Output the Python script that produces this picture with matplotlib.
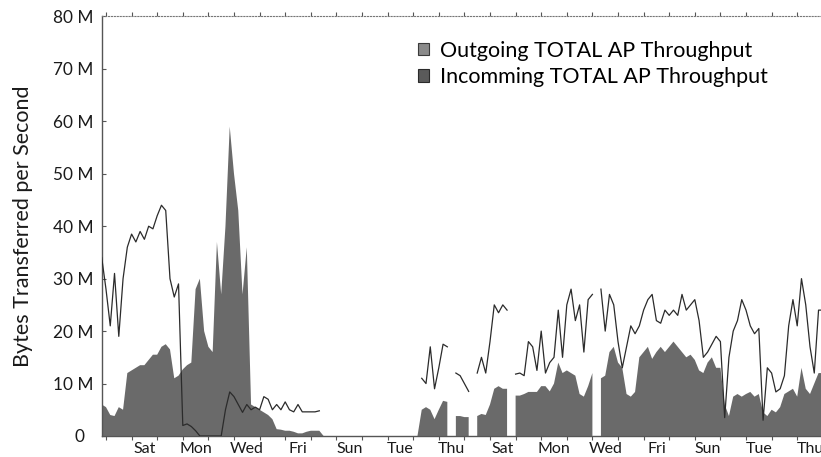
import numpy as np
import matplotlib
matplotlib.use("Agg")
import matplotlib.pyplot as plt
from matplotlib.patches import Patch

nan = np.nan

# 4-hour samples, first one taken 4 h before the Friday tick
start_day = -1 / 6
step = 1 / 6

# incoming throughput (MB/s), drawn as a filled area
incoming = [
    6, 5.5, 4, 3.8, 5.5, 5, 12, 12.5, 13, 13.5,
    13.5, 14.5, 15.5, 15.5, 17, 17.5, 16.5, 11, 11.5, 12.7,
    13.5, 14, 28, 30, 20, 17, 16, 37, 27, 40,
    59, 50, 43, 27, 36, 6, 5.5, 5, 4.5, 4,
    3.2, 1.3, 1.2, 1, 1, 0.8, 0.5, 0.5, 0.8, 1,
    1, 1, 0, 0, 0, 0, 0, 0, 0, 0,
    0, 0, 0, 0, 0, 0, 0, 0, 0, 0,
    0, 0, 0, 0, 0, 5, 5.5, 5, 3.2, 5,
    6.7, 6.5, nan, 3.8, 3.8, 3.6, 3.6, nan, 3.8, 4.2,
    4, 6, 9, 9.5, 9, 9, nan, 7.7, 7.7, 8,
    8.4, 8.4, 8.4, 9.5, 9.5, 8.5, 10, 14, 12, 12.5,
    12, 11.5, 8, 7.5, 9.5, 12, nan, 11, 11.5, 16,
    17, 14, 13, 8, 7.5, 8.4, 15, 16, 17, 14.7,
    16, 17, 16, 17, 18, 17, 16, 15, 15.5, 14.5,
    12.5, 12, 14, 15, 13, 13, 6, 3.8, 7.5, 8,
    7.5, 8, 8.4, 7.5, 8, 4.5, 3.8, 5, 4.5, 5.5,
    8, 8.5, 9, 7.5, 13, 9, 8, 10, 12, 12,
]

# outgoing throughput (MB/s), drawn as a thin line
outgoing = [
    34, 28, 21, 31, 19, 30, 36, 38.5, 37, 39,
    37.5, 40, 39.5, 42, 44, 43, 30, 26.5, 29, 2,
    2.3, 1.8, 1, 0, 0, 0, 0, 0, 0, 5,
    8.4, 7.5, 6, 4.5, 6, 5, 5.5, 5, 7.5, 7,
    5, 6, 5, 6.5, 5, 4.6, 6, 4.6, 4.6, 4.6,
    4.6, 4.8, nan, nan, nan, nan, nan, nan, nan, nan,
    nan, nan, nan, nan, nan, nan, nan, nan, nan, nan,
    nan, nan, nan, nan, nan, 11, 10, 17, 9, 13,
    17.5, 17, nan, 12, 11.5, 10, 8.5, nan, 12, 15,
    12, 18, 25, 23.5, 25, 24, nan, 11.8, 12, 11.5,
    18, 17, 12.5, 20, 12, 14, 15, 24, 15, 25,
    28, 22, 25, 16, 26, 27, nan, 28, 20, 27,
    25, 18, 13, 17, 21, 19.5, 21, 24, 26, 27,
    22, 21.5, 24, 23, 24, 23, 27, 24, 25, 26,
    22, 15, 16, 17.5, 19, 18, 3.5, 15, 20, 22,
    26, 24, 21, 19.5, 20.5, 3, 13, 12, 8.4, 9,
    11.5, 21, 26, 21, 30, 25, 17, 12, 24, 24,
]

day_names = ["Sat", "Mon", "Wed", "Fri", "Sun", "Tue", "Thu",
             "Sat", "Mon", "Wed", "Fri", "Sun", "Tue", "Thu"]
y_ticks = [0, 10, 20, 30, 40, 50, 60, 70, 80]
y_labels = ["0\u2002"] + [f"{v} M" for v in y_ticks[1:]]

plt.rcParams["font.family"] = ["Lato", "DejaVu Sans"]

fig = plt.figure(figsize=(8.21, 4.57), dpi=100)
ax = fig.add_axes([0.1239, 0.046, 0.8939, 0.918])

incoming = np.array(incoming, dtype=float)
outgoing = np.array(outgoing, dtype=float)
t = start_day + np.arange(len(incoming)) * step

ax.fill_between(t, incoming, color="#6a6a6a", linewidth=0, zorder=2)
ax.plot(t, outgoing, color="#2b2b2b", linewidth=0.9, zorder=3)

ax.set_xlim(start_day, 28.5)
ax.set_ylim(0, 80)

ax.set_yticks(y_ticks)
ax.set_yticklabels(y_labels, fontsize=12.4, color="#1a1a1a")
ax.set_xticks(np.arange(0, 29))
ax.set_xticklabels([])
ax.set_xticks(np.arange(1, 28, 2) + 0.5, minor=True)
ax.set_xticklabels(day_names, minor=True, fontsize=11.5, color="#1a1a1a")
ax.tick_params(axis="x", which="minor", length=0, pad=4)
ax.tick_params(axis="x", which="major", length=3, direction="out", color="#555555",
               top=True)
ax.tick_params(axis="y", length=3, direction="in", color="#555555", pad=6)

ax.spines["right"].set_visible(False)
ax.spines["top"].set_linestyle(":")
ax.spines["top"].set_color("#777777")
for side in ("left", "bottom"):
    ax.spines[side].set_color("#555555")
    ax.spines[side].set_linewidth(1.0)

ax.set_ylabel("Bytes Transferred per Second", fontsize=15.5, color="#1a1a1a", labelpad=14)

handles = [Patch(facecolor="#8a8a8a", edgecolor="#3a3a3a", linewidth=0.8),
           Patch(facecolor="#5a5a5a", edgecolor="#2a2a2a", linewidth=0.8)]
ax.legend(handles, ["Outgoing TOTAL AP Throughput", "Incomming TOTAL AP Throughput"],
          loc="upper left", bbox_to_anchor=(407 / 821, 1 - 30 / 457),
          bbox_transform=fig.transFigure, frameon=False, fontsize=15.5,
          handlelength=0.5, handleheight=0.5, handletextpad=0.55,
          labelspacing=0.3, borderpad=0)

fig.savefig("out.png", dpi=100)
